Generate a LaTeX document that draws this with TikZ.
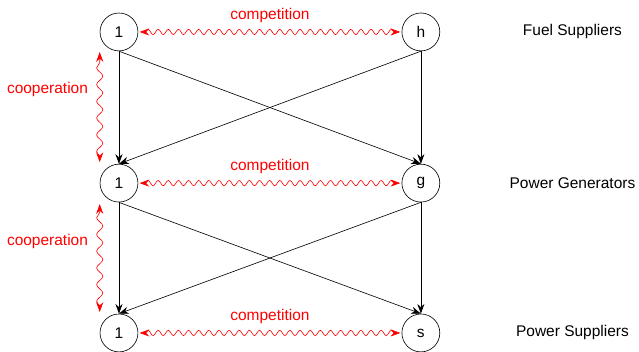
\documentclass[tikz,border=0pt]{standalone}
\usepackage{fontspec}
\setmainfont{Liberation Sans}
\usetikzlibrary{arrows.meta}
\usetikzlibrary{decorations.pathmorphing}

\tikzset{
  agent/.style={circle,draw,minimum size=0.86cm,inner sep=0pt},
  flow/.style={-{Stealth[length=2.2mm,width=1.6mm]}},
  wavy/.style={red,{Stealth[length=2.2mm,width=1.6mm]}-{Stealth[length=2.2mm,width=1.6mm]},
    decorate,decoration={snake,amplitude=0.06cm,segment length=0.23cm,
      pre length=0.12cm,post length=0.12cm}},
  longwavy/.style={wavy,decoration={amplitude=0.07cm,segment length=0.38cm}},
  wavylabel/.style={red,font=\normalsize},
  tier/.style={anchor=center}
}

\begin{document}
\begin{tikzpicture}
    \useasboundingbox (0,0) rectangle (14.5,7.965);

    % three tiers of agents
    \node[agent] (f1) at (2.70,7.24) {1};
    \node[agent] (fh) at (9.55,7.24) {h};
    \node[agent] (g1) at (2.70,3.81) {1};
    \node[agent] (gg) at (9.55,3.81) {g};
    \node[agent] (s1) at (2.70,0.41) {1};
    \node[agent] (ss) at (9.55,0.41) {s};

    \node[tier] (tf) at (12.99,7.24) {Fuel Suppliers};
    \node[tier] (tg) at (12.99,3.81) {Power Generators};
    \node[tier] (ts) at (12.99,0.41) {Power Suppliers};

    % supply links
    \foreach \a/\b in {f1/g1,f1/gg,fh/g1,fh/gg,g1/s1,g1/ss,gg/s1,gg/ss} {
        \draw[flow] (\a.south) -- (\b.north);
    }

    % competition inside a tier
    \foreach \a/\b in {f1/fh,g1/gg,s1/ss} {
        \draw[wavy] ([xshift=0.03cm]\a.east) -- ([xshift=-0.03cm]\b.west)
            node[wavylabel,midway,above=0.08cm] {competition};
    }

    % cooperation between tiers
    \coordinate (c1a) at ([yshift=-0.02cm]f1.south -| f1.west);
    \coordinate (c1b) at ([yshift=0.04cm]g1.north -| g1.west);
    \coordinate (c2a) at ([yshift=-0.04cm]g1.south -| g1.west);
    \coordinate (c2b) at ([yshift=0.04cm]s1.north -| s1.west);
    \draw[longwavy] (c1b) -- (c1a);
    \draw[longwavy] (c2b) -- (c2a);
    \node[wavylabel,anchor=east] (k1) at (2.12,5.94) {cooperation};
    \node[wavylabel,anchor=east] (k2) at (2.12,2.49) {cooperation};

\end{tikzpicture}
\end{document}
